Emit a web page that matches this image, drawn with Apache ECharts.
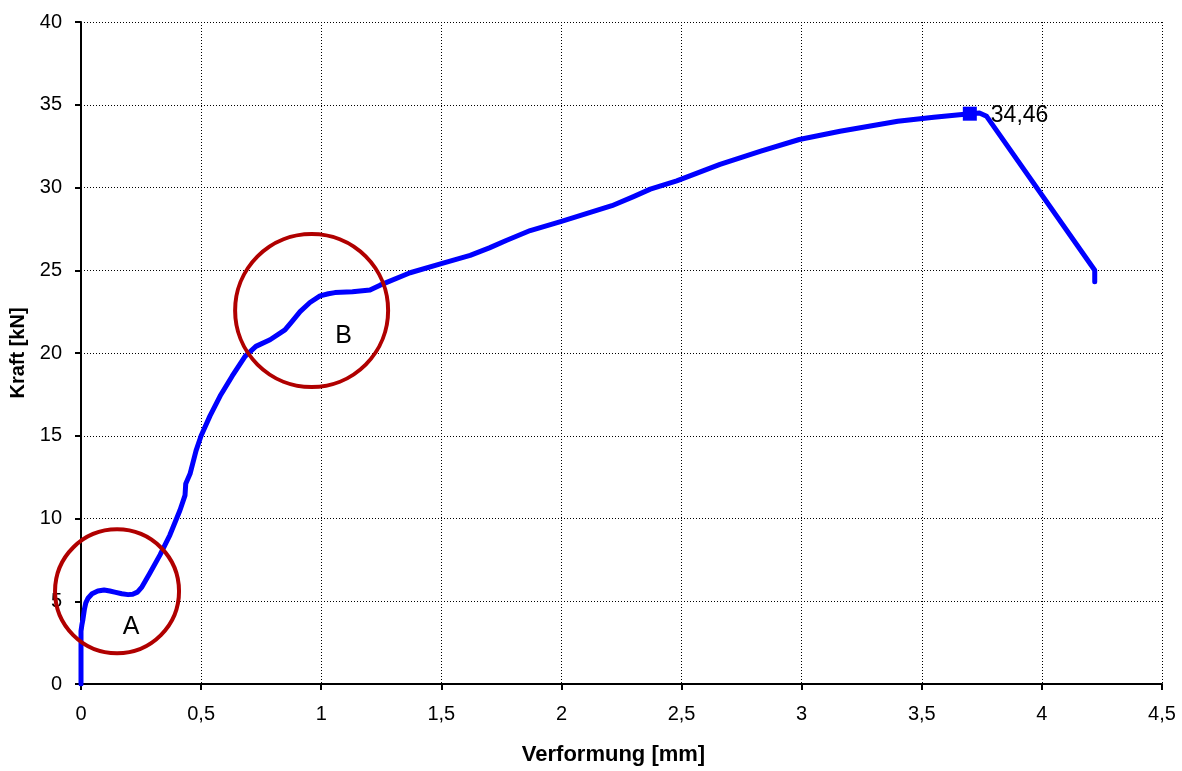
<!DOCTYPE html>
<html>
<head>
<meta charset="utf-8">
<script src="https://cdn.jsdelivr.net/npm/echarts@6/dist/echarts.min.js"></script>
<style>
  html, body { margin: 0; padding: 0; background: #fff; }
  #chart { width: 1182px; height: 771px; }
</style>
</head>
<body>
<div id="chart"></div>
<script>
// Kraft-Verformungs-Kurve (Verformung in mm, Kraft in kN)
const verformung = [0, 0, 0.004, 0.008, 0.014, 0.02, 0.03, 0.046, 0.07, 0.096, 0.12, 0.14, 0.17, 0.196, 0.215, 0.235, 0.254, 0.287, 0.329, 0.37, 0.412, 0.433, 0.436, 0.454, 0.479, 0.5, 0.537, 0.579, 0.629, 0.683, 0.728, 0.787, 0.849, 0.878, 0.912, 0.953, 0.995, 1.03, 1.057, 1.13, 1.203, 1.245, 1.37, 1.5, 1.62, 1.7, 1.77, 1.87, 2.0, 2.1, 2.21, 2.3, 2.37, 2.48, 2.66, 2.83, 2.99, 3.16, 3.4, 3.55, 3.70, 3.74, 3.77, 4.22, 4.22];
const kraft      = [0, 3.2, 3.6, 3.9, 4.5, 4.9, 5.2, 5.45, 5.62, 5.68, 5.62, 5.55, 5.45, 5.4, 5.42, 5.55, 5.87, 6.7, 7.8, 9.0, 10.5, 11.4, 12.1, 12.7, 14.1, 15.0, 16.2, 17.4, 18.6, 19.8, 20.4, 20.8, 21.4, 21.9, 22.5, 23.05, 23.45, 23.58, 23.65, 23.7, 23.8, 24.1, 24.85, 25.4, 25.9, 26.35, 26.8, 27.4, 27.95, 28.4, 28.9, 29.45, 29.9, 30.4, 31.4, 32.2, 32.9, 33.4, 34.0, 34.25, 34.46, 34.5, 34.3, 25.0, 24.3];

// Höchstlast
const maxVerformung = 3.70;
const maxKraft = 34.46;

// Markierte Bereiche A und B (Mittelpunkt in Achsenwerten, Durchmesser in px)
const bereichNamen = ['A', 'B'];
const bereichX = [0.15, 0.96];
const bereichY = [5.6, 22.57];
const bereichDurchmesser = [124, 153];

const fmt = v => String(v).replace('.', ',');
const FONT = 'Liberation Sans, Arial, sans-serif';

const chart = echarts.init(document.getElementById('chart'));
chart.setOption({
  animation: false,
  backgroundColor: '#fff',
  grid: { left: 81, right: 20, top: 22, bottom: 81 },
  xAxis: {
    type: 'value', min: 0, max: 4.5, interval: 0.5,
    name: 'Verformung [mm]', nameLocation: 'middle', nameGap: 60,
    nameTextStyle: { fontFamily: FONT, fontSize: 22, fontWeight: 'bold', color: '#000', padding: [0, 16, 0, 0] },
    axisLine: { show: true, lineStyle: { color: '#000', width: 2 } },
    axisTick: { show: true, inside: false, length: 6, lineStyle: { color: '#000', width: 2 } },
    axisLabel: { fontFamily: FONT, fontSize: 20, color: '#000', margin: 20, formatter: fmt },
    splitLine: { show: true, lineStyle: { color: '#000', width: 1, type: [1, 2] } }
  },
  yAxis: {
    type: 'value', min: 0, max: 40, interval: 5,
    name: 'Kraft [kN]', nameLocation: 'middle', nameGap: 48, nameRotate: 90,
    nameTextStyle: { fontFamily: FONT, fontSize: 20, fontWeight: 'bold', color: '#000' },
    axisLine: { show: true, lineStyle: { color: '#000', width: 2 } },
    axisTick: { show: true, inside: false, length: 6, lineStyle: { color: '#000', width: 2 } },
    axisLabel: { fontFamily: FONT, fontSize: 20, color: '#000', margin: 19, formatter: fmt },
    splitLine: { show: true, lineStyle: { color: '#000', width: 1, type: [1, 2] } }
  },
  series: [
    {
      type: 'line',
      data: verformung.map((x, i) => [x, kraft[i]]),
      showSymbol: false,
      smooth: false,
      lineStyle: { color: '#0000FF', width: 5, cap: 'round', join: 'round' },
      z: 3
    },
    {
      type: 'scatter',
      data: [[maxVerformung, maxKraft]],
      symbol: 'rect', symbolSize: 14,
      itemStyle: { color: '#0000FF', opacity: 1 },
      label: {
        show: true, position: 'right', distance: 14, offset: [0, 2],
        fontFamily: FONT, fontSize: 23, color: '#000',
        formatter: p => fmt(p.value[1])
      },
      z: 4
    },
    {
      type: 'scatter',
      data: bereichX.map((x, i) => ({
        value: [x, bereichY[i]], symbolSize: bereichDurchmesser[i], name: bereichNamen[i],
        label: { offset: i === 0 ? [14, 36] : [32, 26] }
      })),
      symbol: 'circle',
      itemStyle: { color: 'rgba(0,0,0,0)', borderColor: '#B00000', borderWidth: 4, opacity: 1 },
      label: {
        show: true, position: 'inside',
        fontFamily: FONT, fontSize: 25, color: '#000',
        formatter: p => p.name
      },
      z: 5
    }
  ]
});
</script>
</body>
</html>
